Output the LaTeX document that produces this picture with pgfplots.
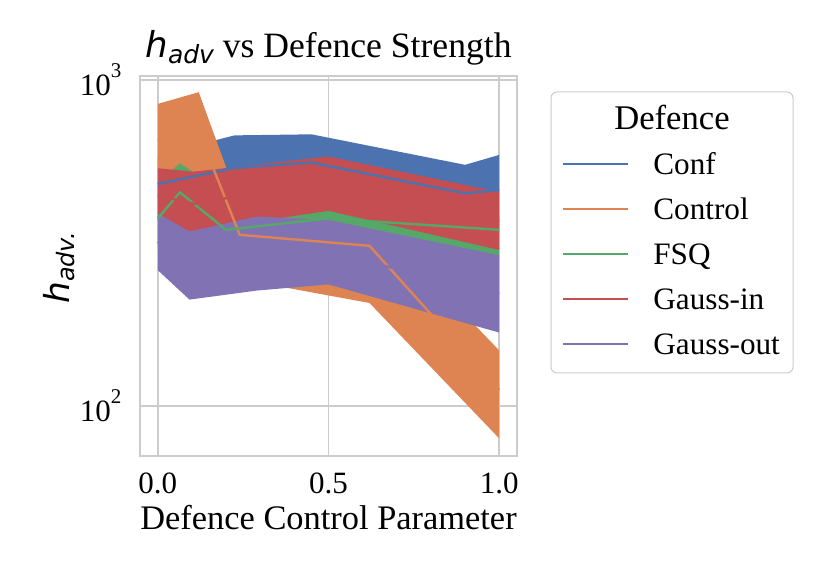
\documentclass[border=0pt]{standalone}
\usepackage{fontspec}
\setmainfont{Liberation Serif}
\newfontfamily\djv{DejaVu Sans}
\usepackage{pgfplots}
\pgfplotsset{compat=1.18}
\definecolor{c0}{HTML}{4C72B0}
\definecolor{c1}{HTML}{DD8452}
\definecolor{c2}{HTML}{55A868}
\definecolor{c3}{HTML}{C44E52}
\definecolor{c4}{HTML}{8172B3}
\definecolor{gridc}{HTML}{CCCCCC}
\begin{document}
\begin{tikzpicture}
\useasboundingbox (-70pt,-60pt) rectangle (345.5pt,228pt);
\begin{axis}[
  at={(0pt,0pt)}, anchor=south west,
  scale only axis, width=188.5pt, height=190pt,
  xmin=-0.052, xmax=1.052,
  ymode=log, ymin=70.3, ymax=1028,
  xtick={0,0.5,1}, xticklabels={0.0,0.5,1.0},
  ytick={100,1000},
  yticklabels={{10\raisebox{9pt}{\fontsize{10.5}{10.5}\selectfont 2}},{10\raisebox{9pt}{\fontsize{10.5}{10.5}\selectfont 3}}},
  minor ytick={},
  grid=major,
  major grid style={color=gridc, line width=0.75pt},
  axis line style={color=gridc, line width=0.8pt},
  major tick length=0pt, minor tick length=0pt,
  tick style={draw=none},
  ticklabel style={font=\fontsize{15.5}{18}\selectfont},
  xticklabel style={anchor=base, inner sep=0pt, yshift=-18.65pt},
  yticklabel style={anchor=east, inner sep=0pt, xshift=-9.15pt},
]
% ---- bands (upper left->right, lower right->left) ----
% Conf
\addplot[fill=c0, draw=none] coordinates {
 (0,589) (0.225,676) (0.45,681) (0.9,549) (1,589)
 (1,359) (0.9,359) (0.45,460) (0.225,428) (0,385)} -- cycle;
% Control
\addplot[fill=c1, draw=none] coordinates {
 (0,844) (0.12,917) (0.24,414) (0.62,385) (1,148)
 (1,79.6) (0.62,207) (0.24,245) (0.12,301) (0,323)} -- cycle;
% FSQ
\addplot[fill=c2, draw=none] coordinates {
 (0,483) (0.065,555) (0.2,447) (0.5,414) (1,385)
 (1,284) (0.5,357) (0.2,323) (0.065,347) (0,301)} -- cycle;
% Gauss-in
\addplot[fill=c3, draw=none] coordinates {
 (0,536) (0.104,523) (0.285,549) (0.5,582) (1,453)
 (1,301) (0.5,397) (0.285,367) (0.104,332) (0,367)} -- cycle;
% Gauss-out
\addplot[fill=c4, draw=none] coordinates {
 (0,390) (0.093,343) (0.29,381) (0.5,372) (1,290)
 (1,168) (0.5,236) (0.29,226) (0.093,212) (0,261)} -- cycle;
% ---- mean lines ----
\addplot[c0, line width=1.2pt] coordinates {(0,480) (0.225,537) (0.45,558) (0.9,449) (1,460)};
\addplot[c1, line width=1.2pt] coordinates {(0,655) (0.12,694) (0.24,335) (0.62,310) (1,112)};
\addplot[c2, line width=1.2pt] coordinates {(0,376) (0.065,452) (0.2,347) (0.5,376) (1,347)};
\addplot[c3, line width=1.2pt] coordinates {(0,443) (0.104,417) (0.285,449) (0.5,481) (1,369)};
\addplot[c4, line width=1.2pt] coordinates {(0,319) (0.093,270) (0.29,293) (0.5,296) (1,221)};
\end{axis}
% title and labels
\node[anchor=base, inner sep=0pt, font=\fontsize{17.8}{20}\selectfont] at (94.25pt,199.15pt)
  {{\djv\itshape h\raisebox{-2.8pt}{\fontsize{12.5}{12.5}\selectfont adv}}\ vs Defence Strength};
\node[anchor=base, inner sep=0pt, font=\fontsize{17.2}{20}\selectfont] at (94.25pt,-37pt) {Defence Control Parameter};
\node[rotate=90, anchor=center, inner sep=0pt, font=\fontsize{17.2}{20}\selectfont] at (-40.5pt,94pt)
  {{\djv\itshape h\raisebox{-2.8pt}{\fontsize{12}{12}\selectfont adv.}}};
% legend
\draw[gridc, line width=0.5pt, fill=white, rounded corners=3pt] (205.5pt,41.5pt) rectangle (326.5pt,182pt);
\node[anchor=base, inner sep=0pt, font=\fontsize{17.3}{20}\selectfont] at (266pt,163pt) {Defence};
\draw[c0, line width=1pt] (211.5pt,146pt) -- (244pt,146pt);
\node[anchor=base west, inner sep=0pt, font=\fontsize{15.6}{18}\selectfont] at (256.5pt,140.5pt) {Conf};
\draw[c1, line width=1pt] (211.5pt,123.5pt) -- (244pt,123.5pt);
\node[anchor=base west, inner sep=0pt, font=\fontsize{15.6}{18}\selectfont] at (256.5pt,118pt) {Control};
\draw[c2, line width=1pt] (211.5pt,101pt) -- (244pt,101pt);
\node[anchor=base west, inner sep=0pt, font=\fontsize{15.6}{18}\selectfont] at (256.5pt,95.5pt) {FSQ};
\draw[c3, line width=1pt] (211.5pt,78.5pt) -- (244pt,78.5pt);
\node[anchor=base west, inner sep=0pt, font=\fontsize{15.6}{18}\selectfont] at (256.5pt,73pt) {Gauss-in};
\draw[c4, line width=1pt] (211.5pt,56pt) -- (244pt,56pt);
\node[anchor=base west, inner sep=0pt, font=\fontsize{15.6}{18}\selectfont] at (256.5pt,50.5pt) {Gauss-out};
\end{tikzpicture}
\end{document}
